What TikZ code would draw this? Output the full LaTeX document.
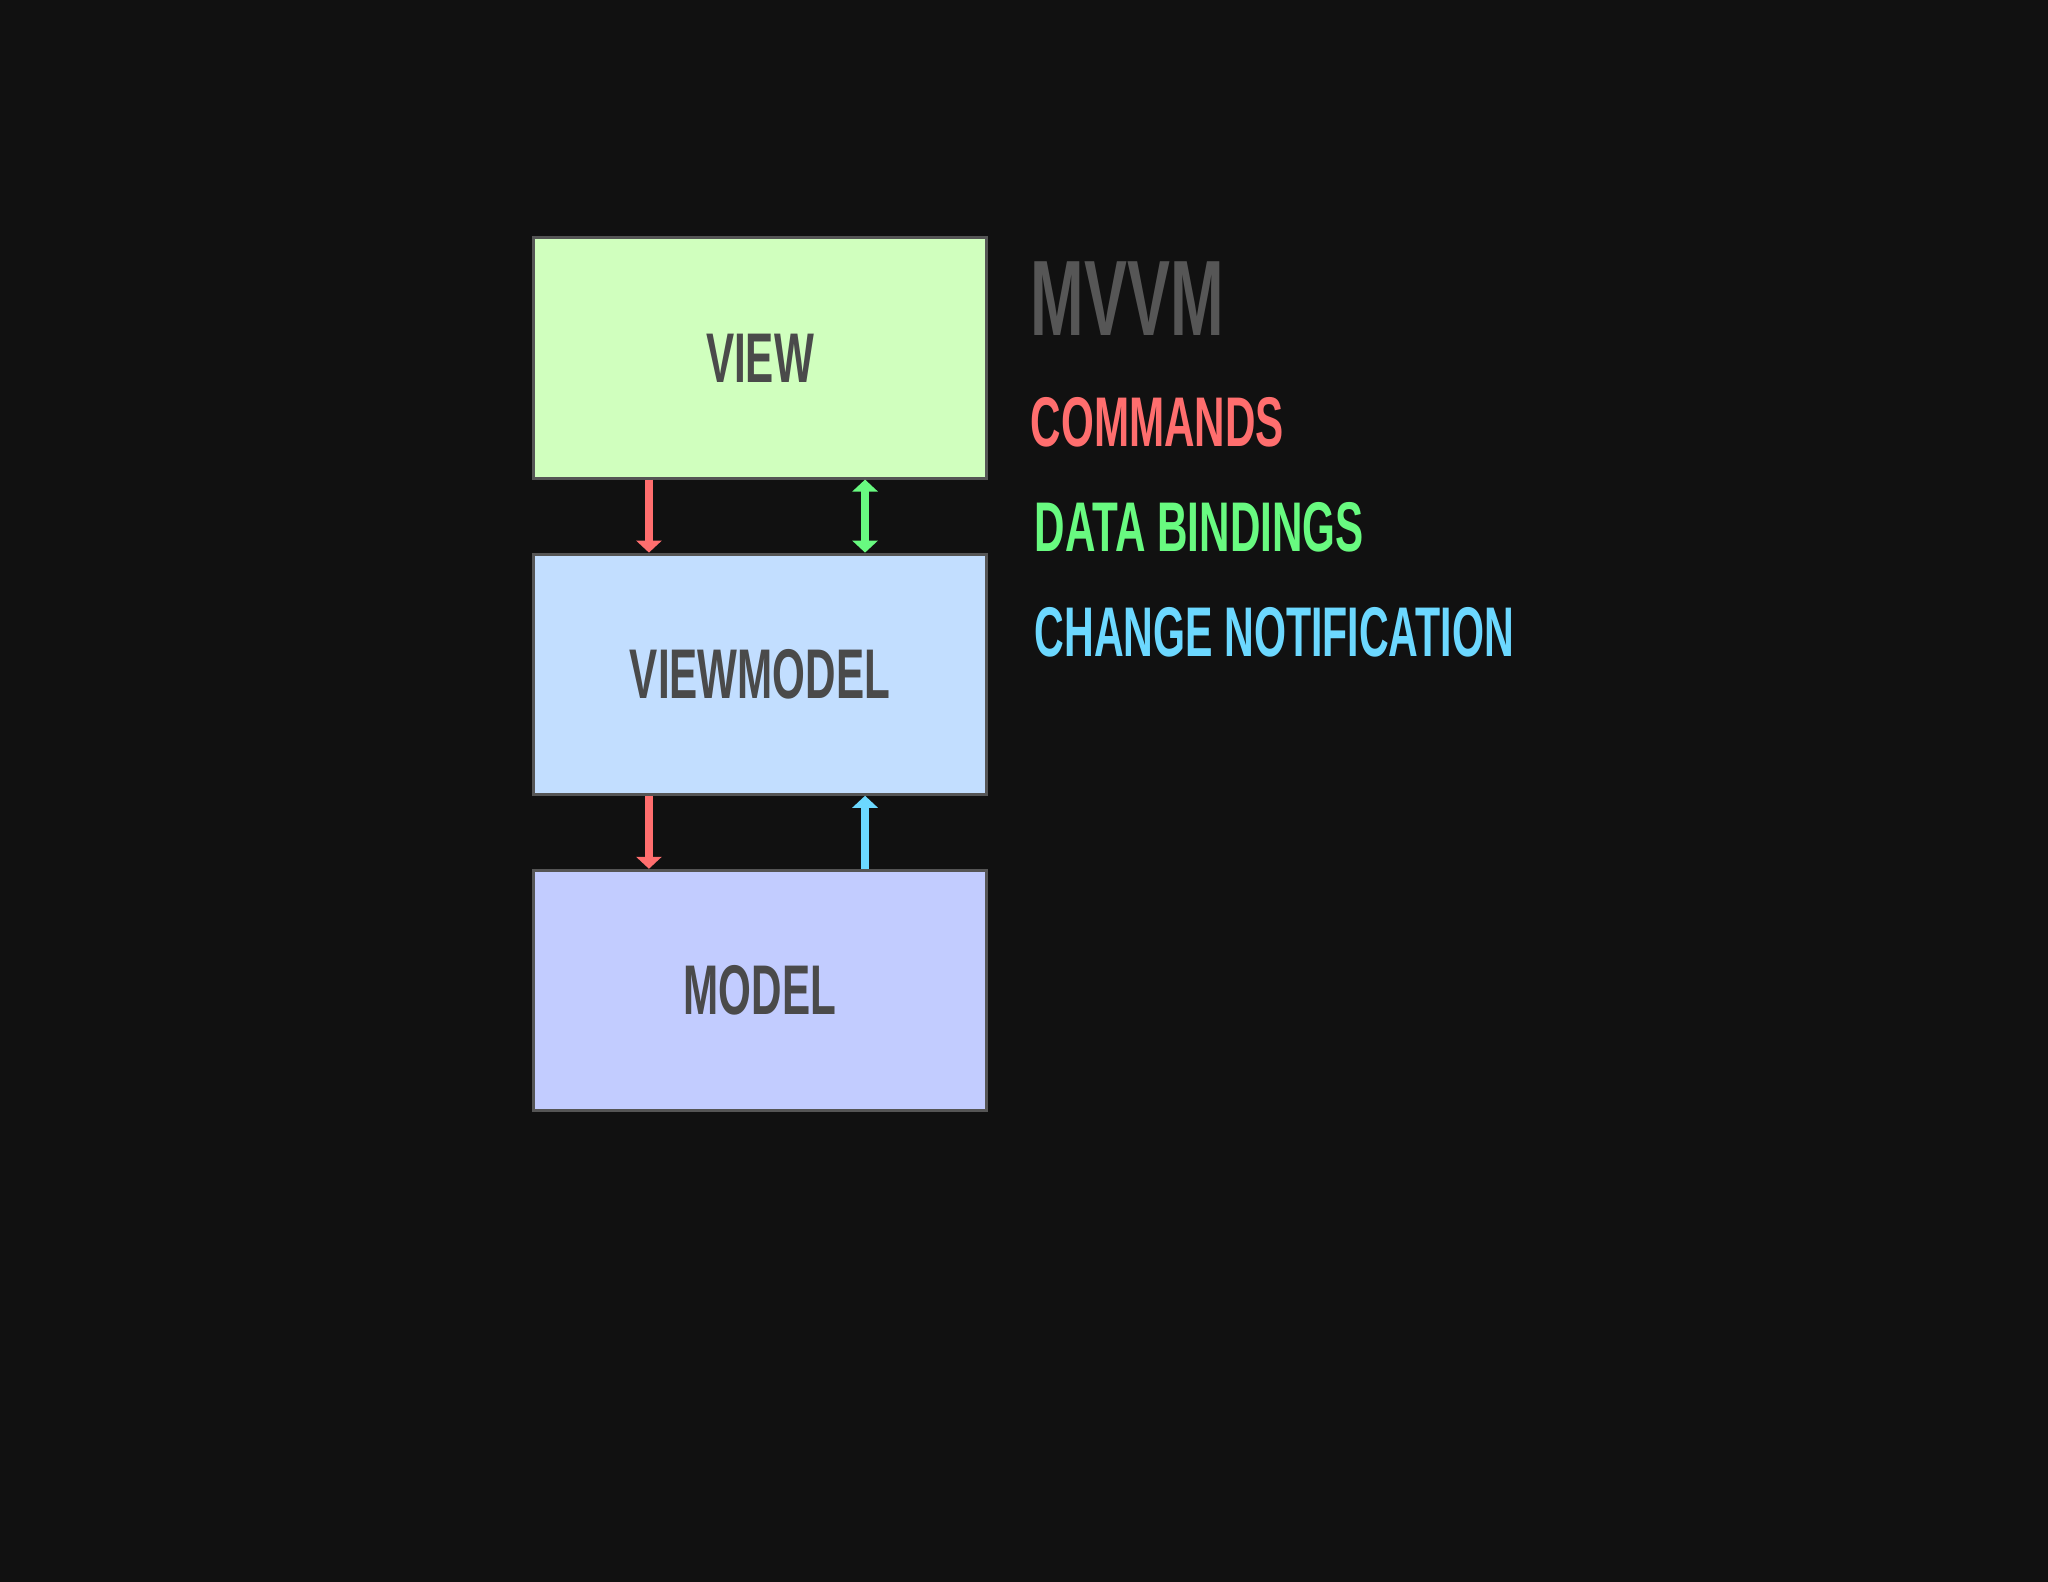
\documentclass[tikz,border=0pt]{standalone}
\usepackage{fontspec}
\setmainfont{Liberation Sans}[FakeStretch=0.6]
\usetikzlibrary{arrows.meta, positioning}

\definecolor{bgdark}{HTML}{111111}
\definecolor{boxgray}{HTML}{555555}
\definecolor{labelgray}{HTML}{4A4A4A}
\definecolor{titlegray}{HTML}{565656}
\definecolor{viewgreen}{HTML}{D0FFBE}
\definecolor{vmblue}{HTML}{C2DEFF}
\definecolor{modelblue}{HTML}{C2CCFF}
\definecolor{cmdred}{HTML}{FF6E6E}
\definecolor{bindgreen}{HTML}{68FA80}
\definecolor{notifycyan}{HTML}{6CD8FF}

\begin{document}
\begin{tikzpicture}[x=0.01cm, y=-0.01cm,
  layer/.style={draw=boxgray, line width=0.03cm, minimum width=4.52cm, minimum height=2.40cm,
    font=\fontsize{20}{24}\selectfont\bfseries, text=labelgray},
  legend/.style={anchor=base west, inner sep=0pt, font=\fontsize{20}{24}\selectfont\bfseries},
  flow/.style={line width=0.08cm, -{Triangle[width=0.25cm,length=0.12cm]}}]
\fill[bgdark] (0,0) rectangle (2048,1582);
% the three layers
\node[layer, fill=viewgreen] (view) at (760,358) {VIEW};
\node[layer, fill=vmblue, below=0.73cm of view] (viewmodel) {VIEWMODEL};
\node[layer, fill=modelblue, below=0.73cm of viewmodel] (model) {MODEL};
% connectors
\draw[flow, cmdred] ([xshift=-1.11cm]view.south) -- ([xshift=-1.11cm]viewmodel.north);
\draw[flow, bindgreen, {Triangle[width=0.25cm,length=0.12cm]}-{Triangle[width=0.25cm,length=0.12cm]}] ([xshift=1.05cm]view.south) -- ([xshift=1.05cm]viewmodel.north);
\draw[flow, cmdred] ([xshift=-1.11cm]viewmodel.south) -- ([xshift=-1.11cm]model.north);
\draw[flow, notifycyan] ([xshift=1.05cm]model.north) -- ([xshift=1.05cm]viewmodel.south);
% legend
\node[legend, text=titlegray, font=\fontsize{30.5}{36}\selectfont\bfseries] (title) at (1030,335) {MVVM};
\node[legend, text=cmdred] (commands) at (1030,446) {COMMANDS};
\node[legend, text=bindgreen] (bindings) at (1034,551) {DATA BINDINGS};
\node[legend, text=notifycyan, xscale=0.975] (notify) at (1034,656) {CHANGE NOTIFICATION};
\end{tikzpicture}
\end{document}
